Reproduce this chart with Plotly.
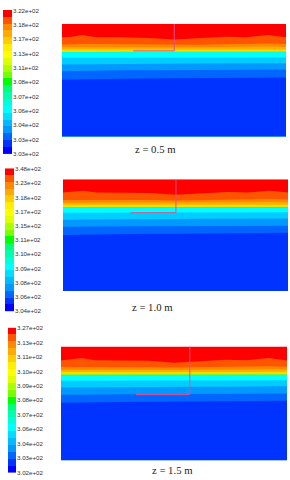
import plotly.graph_objects as go

W, H = 290, 480

# horizontal position along each section (% of width)
X_POS = [0, 4.5, 9, 15, 26, 39, 50, 61, 73, 82, 92, 100]

BAND_COLORS = ["#ff5500", "#ff8800", "#ffb000", "#ffd800", "#c8f000", "#00ff99",
               "#00ffff", "#00ccff", "#0099ff", "#0066ff", "#0033ff"]

# depth (% of height) at which each band starts, per section
Z05_BANDS = [
    [12.0, 11.5, 10.0, 12.0, 12.0, 12.5, 14.0, 12.9, 11.5, 12.0, 10.0, 12.0],
    [18.4, 18.5, 18.0, 18.0, 18.2, 18.5, 18.8, 18.5, 18.2, 18.0, 17.5, 18.0],
    [20.8, 20.8, 20.4, 20.6, 20.3, 20.8, 21.0, 20.6, 20.8, 20.4, 20.2, 20.6],
    [22.8, 22.8, 22.6, 22.8, 22.6, 23.0, 23.2, 23.0, 23.0, 22.8, 22.6, 22.8],
    [24.4, 24.4, 24.2, 24.4, 24.2, 24.4, 24.6, 24.6, 24.4, 24.2, 24.2, 24.2],
    [25.0, 25.0, 24.9, 25.0, 24.9, 25.0, 25.2, 25.2, 25.0, 24.9, 24.9, 24.8],
    [25.3, 25.3, 25.3, 25.3, 25.3, 25.3, 25.4, 25.5, 25.3, 25.2, 25.2, 25.2],
    [30.2, 30.2, 30.2, 30.1, 30.0, 30.0, 30.0, 30.0, 30.0, 30.0, 29.8, 29.8],
    [36.0, 36.0, 35.8, 35.6, 35.5, 35.4, 35.4, 35.3, 35.2, 35.2, 35.1, 35.0],
    [42.0, 41.8, 41.7, 41.5, 41.3, 41.2, 41.2, 41.0, 41.0, 40.8, 40.8, 40.6],
    [49.6, 49.4, 49.2, 49.0, 48.8, 48.6, 48.5, 48.3, 48.2, 48.0, 47.8, 47.6],
]
Z10_BANDS = [
    [12.0, 11.4, 10.3, 12.0, 12.1, 12.4, 14.0, 13.0, 11.6, 12.0, 10.3, 12.0],
    [18.6, 18.6, 18.2, 18.3, 18.3, 18.6, 19.0, 18.6, 18.4, 18.2, 17.8, 18.2],
    [21.0, 21.0, 20.6, 20.8, 20.6, 21.0, 21.2, 20.9, 21.0, 20.6, 20.5, 20.8],
    [23.0, 23.0, 22.8, 23.0, 22.8, 23.2, 23.4, 23.2, 23.2, 23.0, 22.8, 23.0],
    [24.5, 24.5, 24.4, 24.5, 24.4, 24.6, 24.8, 24.8, 24.5, 24.4, 24.4, 24.4],
    [25.2, 25.2, 25.1, 25.2, 25.1, 25.3, 25.5, 25.5, 25.2, 25.1, 25.1, 25.0],
    [25.7, 25.7, 25.7, 25.7, 25.7, 25.8, 25.9, 25.9, 25.7, 25.6, 25.6, 25.5],
    [30.0, 30.0, 30.0, 29.9, 29.8, 29.8, 29.8, 29.8, 29.8, 29.8, 29.6, 29.6],
    [36.2, 36.2, 36.0, 35.9, 35.7, 35.6, 35.6, 35.5, 35.4, 35.4, 35.3, 35.2],
    [42.6, 42.5, 42.4, 42.2, 42.2, 42.2, 42.1, 42.0, 41.9, 41.8, 41.7, 41.6],
    [50.0, 49.8, 49.6, 49.4, 49.1, 48.9, 48.8, 48.6, 48.4, 48.2, 48.1, 48.0],
]
Z15_BANDS = [
    [12.4, 11.6, 10.3, 12.2, 12.2, 12.6, 14.4, 13.2, 11.8, 12.2, 10.3, 12.3],
    [18.2, 18.2, 17.8, 17.9, 18.0, 18.3, 18.6, 18.2, 18.0, 17.8, 17.4, 17.8],
    [20.5, 20.5, 20.1, 20.3, 20.1, 20.6, 20.8, 20.4, 20.6, 20.2, 20.0, 20.3],
    [22.5, 22.5, 22.3, 22.5, 22.3, 22.7, 22.9, 22.7, 22.7, 22.5, 22.3, 22.5],
    [24.0, 24.0, 23.9, 24.0, 23.9, 24.1, 24.3, 24.3, 24.0, 23.9, 23.9, 23.9],
    [24.9, 24.9, 24.8, 24.9, 24.8, 25.0, 25.2, 25.2, 24.9, 24.8, 24.8, 24.7],
    [25.5, 25.5, 25.5, 25.5, 25.5, 25.6, 25.7, 25.7, 25.5, 25.4, 25.4, 25.3],
    [30.1, 30.1, 30.1, 30.0, 29.9, 29.9, 29.9, 29.9, 29.9, 29.9, 29.7, 29.7],
    [36.1, 36.1, 35.9, 35.8, 35.6, 35.6, 35.6, 35.5, 35.4, 35.3, 35.2, 35.1],
    [42.4, 42.3, 42.2, 42.1, 42.0, 42.0, 41.9, 41.8, 41.7, 41.6, 41.5, 41.4],
    [49.6, 49.4, 49.2, 49.0, 48.9, 48.7, 48.6, 48.4, 48.2, 48.1, 47.9, 47.8],
]

# colour-bar cells, low to high
BAR_COLORS = ["#0000ff", "#0033ff", "#0066ff", "#0099ff", "#00bbff", "#00ddff", "#00ffff",
              "#00ffdd", "#00ffaa", "#00ff77", "#00ff00", "#77ff00", "#aaff00", "#ddff00",
              "#ffff00", "#ffee00", "#ffcc00", "#ffaa00", "#ff8800", "#ff5500", "#ff0000"]

Z05_LABELS = ["3.03e+02", "3.03e+02", "3.04e+02", "3.06e+02", "3.07e+02", "3.08e+02",
              "3.11e+02", "3.13e+02", "3.17e+02", "3.18e+02", "3.22e+02"]
Z10_LABELS = ["3.04e+02", "3.06e+02", "3.08e+02", "3.09e+02", "3.10e+02", "3.11e+02",
              "3.15e+02", "3.17e+02", "3.18e+02", "3.23e+02", "3.48e+02"]
Z15_LABELS = ["3.02e+02", "3.03e+02", "3.04e+02", "3.06e+02", "3.07e+02", "3.08e+02",
              "3.09e+02", "3.10e+02", "3.11e+02", "3.13e+02", "3.27e+02"]

CAPTIONS = ["z = 0.5 m", "z = 1.0 m", "z = 1.5 m"]

# probe-line corner (x %, depth %) per section
PROBE_X = [[31.8, 50.1, 50.1], [30.1, 50.2, 50.2], [33.2, 57.0, 57.0]]
PROBE_D = [[24.0, 24.0, 0.0], [30.0, 30.0, 0.0], [42.4, 42.4, 0.0]]

# pixel layout: plot box, colour-bar box, caption position
PANELS = [
    dict(bands=Z05_BANDS, labels=Z05_LABELS, box=(62, 286, 21, 135), bar=(3, 12, 7, 153), cap=(155, 148)),
    dict(bands=Z10_BANDS, labels=Z10_LABELS, box=(63, 288, 178, 291), bar=(5, 14, 167, 312), cap=(152, 307)),
    dict(bands=Z15_BANDS, labels=Z15_LABELS, box=(61, 287, 347, 462), bar=(8, 16, 328, 475), cap=(172, 472)),
]

fig = go.Figure()
layout = dict(
    width=W, height=H, margin=dict(l=0, r=0, t=0, b=0), autosize=False,
    paper_bgcolor="white", plot_bgcolor="white", showlegend=False,
    annotations=[], hovermode=False,
)


def dom_x(a, b):
    return [a / W, b / W]


def dom_y(a, b):
    return [1 - b / H, 1 - a / H]


n_cells = len(BAR_COLORS)
scale = []
for i, c in enumerate(BAR_COLORS):
    scale += [[i / n_cells, c], [(i + 1) / n_cells, c]]

for p, panel in enumerate(PANELS):
    ax = 2 * p + 1
    bx = 2 * p + 2
    xa, xb = f"x{ax}", f"x{bx}"
    ya, yb = f"y{ax}", f"y{bx}"
    # base layer
    fig.add_trace(go.Scatter(x=[0, 100, 100, 0], y=[0, 0, 100, 100], fill="toself", mode="lines",
                             fillcolor="#ff0000", line=dict(width=0), xaxis=xa, yaxis=ya))
    for color, bound in zip(BAND_COLORS, panel["bands"]):
        fig.add_trace(go.Scatter(x=X_POS + [100, 0], y=bound + [100, 100], fill="toself", mode="lines",
                                 fillcolor=color, line=dict(width=0), xaxis=xa, yaxis=ya))
    fig.add_trace(go.Scatter(x=PROBE_X[p], y=PROBE_D[p], mode="lines",
                             line=dict(color="#e0508a", width=1), xaxis=xa, yaxis=ya))
    fig.add_trace(go.Heatmap(z=[[i] for i in range(n_cells)], zmin=-0.5, zmax=n_cells - 0.5,
                             colorscale=scale, showscale=False, xaxis=xb, yaxis=yb))
    l, r, t, b = panel["box"]
    layout[f"xaxis{ax}"] = dict(domain=dom_x(l, r), range=[0, 100], visible=False, anchor=ya)
    layout[f"yaxis{ax}"] = dict(domain=dom_y(t, b), range=[100, 0], visible=False, anchor=xa)
    l2, r2, t2, b2 = panel["bar"]
    layout[f"xaxis{bx}"] = dict(domain=dom_x(l2, r2), range=[-0.5, 0.5], visible=False, anchor=yb)
    layout[f"yaxis{bx}"] = dict(
        domain=dom_y(t2, b2), range=[-0.5, n_cells - 0.5], anchor=xb, side="right",
        tickmode="array", tickvals=[-0.4 + 2.08 * i for i in range(11)], ticktext=panel["labels"],
        showgrid=False, zeroline=False, showline=False, ticks="", ticklen=0,
        tickfont=dict(family="Liberation Sans", size=6.2, color="#333333"),
    )
    cx, cy = panel["cap"]
    layout["annotations"].append(dict(
        text=CAPTIONS[p], x=cx / W, y=1 - cy / H, xref="paper", yref="paper", showarrow=False,
        xanchor="center", yanchor="middle", font=dict(family="Liberation Serif", size=10.7, color="#222222"),
    ))

fig.update_layout(**layout)
fig.write_html("out.html", config=dict(displayModeBar=False),
               post_script="document.body.style.margin='0';document.body.style.overflow='hidden';")
